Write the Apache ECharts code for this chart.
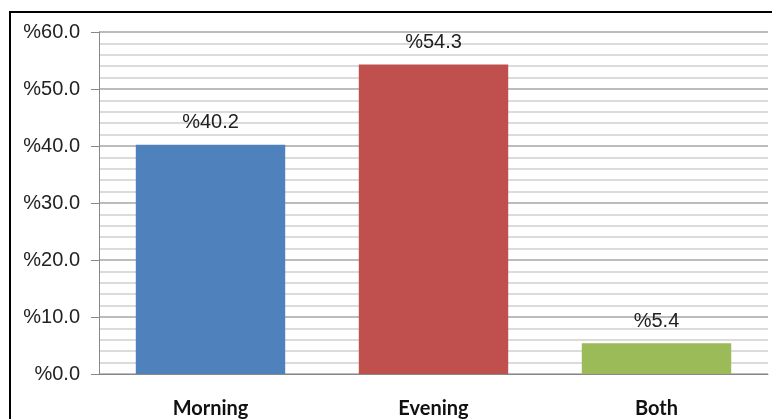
<!DOCTYPE html>
<html>
<head>
<meta charset="utf-8">
<script src="https://cdn.jsdelivr.net/npm/echarts@6/dist/echarts.min.js"></script>
<style>
html,body{margin:0;padding:0;background:#fff;}
#frame{position:absolute;left:9px;top:11px;width:800px;height:420px;border-left:2px solid #000;border-top:2px solid #000;}
#chart{position:absolute;left:0;top:0;width:772px;height:419px;}
</style>
</head>
<body>
<div id="frame"></div>
<div id="chart"></div>
<script>
const categories = ['Morning', 'Evening', 'Both'];
const values = [40.2, 54.3, 5.4];
const colors = ['#4F81BD', '#C0504D', '#9BBB59'];
const yTicks = [0, 10, 20, 30, 40, 50, 60];

const chart = echarts.init(document.getElementById('chart'));
chart.setOption({
  animation: false,
  grid: {left: 99, right: 4, top: 32, bottom: 45, containLabel: false},
  xAxis: {
    type: 'category',
    data: categories,
    axisLine: {lineStyle: {color: '#888', width: 1}},
    axisTick: {show: false},
    axisLabel: {margin: 25, fontFamily: 'Lato', fontWeight: 'bold', fontSize: 20, color: '#111'}
  },
  yAxis: {
    type: 'value',
    min: yTicks[0],
    max: yTicks[yTicks.length - 1],
    interval: 10,
    axisLine: {show: true, lineStyle: {color: '#888', width: 1}},
    axisTick: {show: true, length: 8, lineStyle: {color: '#888'}},
    axisLabel: {margin: 19, fontFamily: 'Liberation Sans', fontSize: 20, color: '#222',
      formatter: v => '%' + v.toFixed(1)},
    splitLine: {show: true, lineStyle: {color: '#a6a6a6', width: 1.5}},
    minorTick: {show: false, splitNumber: 5},
    minorSplitLine: {show: true, lineStyle: {color: '#cfcfcf', width: 1.5}}
  },
  series: [{
    type: 'bar',
    data: values.map((v, i) => ({value: v, itemStyle: {color: colors[i]}})),
    barWidth: '67%',
    label: {show: true, position: 'top', distance: 12, fontFamily: 'Liberation Sans', fontSize: 20, color: '#222',
      formatter: p => '%' + p.value.toFixed(1)}
  }]
});
</script>
</body>
</html>
